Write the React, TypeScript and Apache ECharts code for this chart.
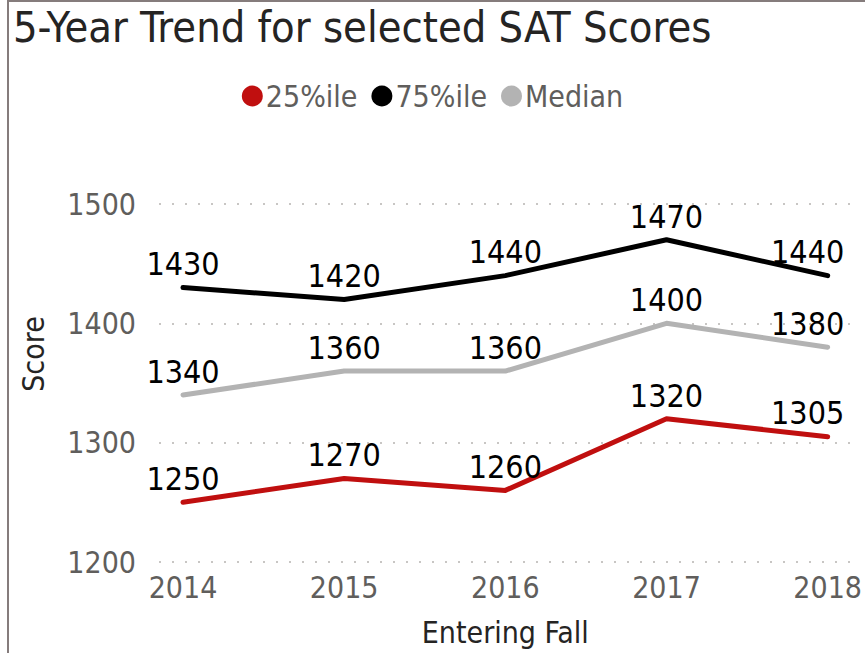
import React, { useEffect, useRef } from "react";
import * as echarts from "echarts";

const years = ["2014", "2015", "2016", "2017", "2018"];
const p25 = [1250, 1270, 1260, 1320, 1305];
const p75 = [1430, 1420, 1440, 1470, 1440];
const median = [1340, 1360, 1360, 1400, 1380];
const yTicks = { min: 1200, max: 1500, interval: 100 };

const FONT = "DejaVu Sans Condensed";

function withLabels(vals: number[]) {
  return vals.map((v, i) =>
    i === vals.length - 1
      ? { value: v, label: { offset: [-20, 0] } }
      : { value: v }
  );
}

export default function App() {
  const ref = useRef<HTMLDivElement>(null);
  useEffect(() => {
    const chart = echarts.init(ref.current!, null, { renderer: "svg" });
    const mk = (name: string, data: number[], color: string) => ({
      name,
      type: "line",
      xAxisIndex: 1,
      yAxisIndex: 1,
      data: withLabels(data),
      symbol: "circle",
      symbolSize: 0.5,
      showSymbol: true,
      lineStyle: { color, width: 5, cap: "round", join: "round" },
      itemStyle: { color },
      label: {
        show: true,
        position: "top",
        distance: 7,
        color: "#000",
        fontSize: 32,
        fontFamily: FONT,
      },
    });
    chart.setOption({
      animation: false,
      title: {
        text: "5-Year Trend for selected SAT Scores",
        left: 8,
        top: 0,
        textStyle: { fontFamily: FONT, fontSize: 43, fontWeight: "normal", color: "#252423" },
      },
      legend: {
        top: 76,
        left: "center",
        icon: "circle",
        itemWidth: 21,
        itemHeight: 21,
        itemGap: 14,
        data: ["25%ile", "75%ile", "Median"],
        textStyle: { fontFamily: FONT, fontSize: 30, color: "#605E5C", padding: [0, 0, 0, -2] },
      },
      grid: [
        { left: 159, right: 10, top: 204, bottom: 91 },
        { left: 183, right: 35, top: 204, bottom: 91 },
      ],
      xAxis: [
        { type: "category", gridIndex: 0, data: years, show: false },
        {
          type: "category",
          gridIndex: 1,
          data: years,
          boundaryGap: false,
          axisLine: { show: false },
          axisTick: { show: false },
          splitLine: { show: false },
          axisLabel: { fontFamily: FONT, fontSize: 30, color: "#605E5C", margin: 10 },
          name: "Entering Fall",
          nameLocation: "middle",
          nameGap: 55,
          nameTextStyle: { fontFamily: FONT, fontSize: 30, color: "#252423" },
        },
      ],
      yAxis: [
        {
          type: "value",
          gridIndex: 0,
          min: yTicks.min,
          max: yTicks.max,
          interval: yTicks.interval,
          axisLine: { show: false },
          axisTick: { show: false },
          axisLabel: {
            fontFamily: FONT,
            fontSize: 30,
            color: "#605E5C",
            margin: 23,
            formatter: (v: number) => String(v),
          },
          splitLine: { lineStyle: { color: "#C8C6C4", width: 2, type: [2, 11] } },
        },
        {
          type: "value",
          gridIndex: 1,
          min: yTicks.min,
          max: yTicks.max,
          interval: yTicks.interval,
          show: false,
          splitLine: { show: false },
        },
      ],
      graphic: [
        {
          type: "rect",
          shape: { x: 8, y: 1, width: 900, height: 700 },
          style: { fill: "none", stroke: "#857C7C", lineWidth: 2 },
          silent: true,
        },
        {
          type: "text",
          x: 33,
          y: 354,
          rotation: Math.PI / 2,
          style: {
            text: "Score",
            fontFamily: FONT,
            fontSize: 30,
            fill: "#252423",
            align: "center",
            verticalAlign: "middle",
          },
          silent: true,
        },
      ],
      series: [
        mk("25%ile", p25, "#C00F0F"),
        mk("75%ile", p75, "#000000"),
        mk("Median", median, "#B3B3B3"),
      ],
    });
    return () => chart.dispose();
  }, []);
  return (
    <div
      ref={ref}
      style={{ position: "fixed", left: 0, top: 0, width: 865, height: 653, background: "#fff" }}
    />
  );
}
